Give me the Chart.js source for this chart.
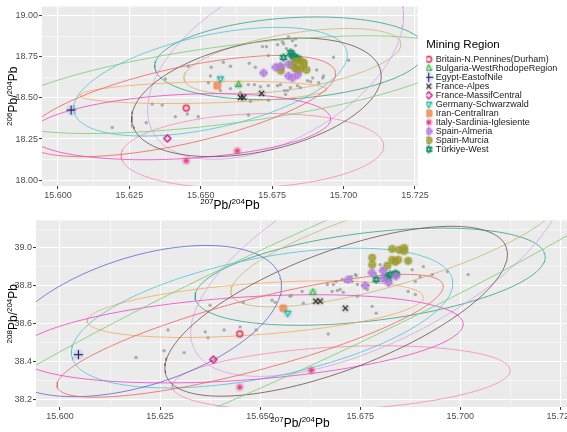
<!DOCTYPE html>
<html>
<head>
<meta charset="utf-8">
<script src="https://cdn.jsdelivr.net/npm/chart.js@4.4.1/dist/chart.umd.min.js"></script>
<style>
  html, body { margin: 0; padding: 0; background: #fff; overflow: hidden; }
  #wrap { position: relative; width: 567px; height: 432px; overflow: hidden; }
  #top { position: absolute; left: 0; top: 0; }
  #bottom { position: absolute; left: 0; top: 214px; }
</style>
</head>
<body>
<div id="wrap">
  <canvas id="top" width="567" height="214"></canvas>
  <!-- slightly wider than the page: the panel runs off the right edge like the source figure -->
  <canvas id="bottom" width="575" height="218"></canvas>
</div>
<script>
// ---- data ----
const regions = [
  'Britain-N.Pennines(Durham)', 'Bulgaria-WestRhodopeRegion', 'Egypt-EastofNile',
  'France-Alpes', 'France-MassifCentral', 'Germany-Schwarzwald', 'Iran-CentralIran',
  'Italy-Sardinia-Iglesiente', 'Spain-Almeria', 'Spain-Murcia', 'Türkiye-West'
];

// 207Pb/204Pb of the labelled samples, one list per region
const regionX = [
  [15.6449],
  [15.6632],
  [15.6046],
  [15.6639, 15.6650, 15.6713],
  [15.6383],
  [15.6569],
  [15.6558],
  [15.6449, 15.6628],
  [15.6720, 15.6762, 15.6779, 15.6807, 15.6807, 15.6839, 15.6821],
  [15.6780, 15.6780, 15.6818, 15.6830, 15.6848, 15.6860, 15.6860, 15.6830, 15.6838, 15.6845, 15.6870],
  [15.6790, 15.6815, 15.6825, 15.6838, 15.6820, 15.6840]
];
// 206Pb/204Pb
const region206 = [
  [18.438],
  [18.580],
  [18.426],
  [18.503, 18.503, 18.527],
  [18.254],
  [18.615],
  [18.574],
  [18.118, 18.178],
  [18.651, 18.686, 18.692, 18.704, 18.633, 18.639, 18.621],
  [18.685, 18.665, 18.700, 18.720, 18.725, 18.715, 18.705, 18.680, 18.675, 18.670, 18.670],
  [18.745, 18.775, 18.750, 18.740, 18.760, 18.735]
];
// 208Pb/204Pb
const region208 = [
  [38.545],
  [38.765],
  [38.435],
  [38.718, 38.718, 38.681],
  [38.409],
  [38.655],
  [38.681],
  [38.263, 38.352],
  [38.833, 38.801, 38.869, 38.880, 38.838, 38.850, 38.817],
  [38.948, 38.911, 38.906, 38.995, 38.990, 39.000, 38.984, 38.937, 38.927, 38.937, 38.932],
  [38.833, 38.848, 38.859, 38.864, 38.838, 38.860]
];

// unlabelled database samples (grey dots)
const grayTopX = [15.6190, 15.6260, 15.6309, 15.6330, 15.6365, 15.6411, 15.6453, 15.6491, 15.6376, 15.6456,
  15.6534, 15.6537, 15.6579, 15.6604, 15.6670, 15.6691, 15.6716, 15.6730, 15.6737, 15.6769,
  15.6786, 15.6800, 15.6807, 15.6821, 15.6832, 15.6790, 15.6832, 15.6965, 15.7018, 15.6927,
  15.6913, 15.6885, 15.6874, 15.6779, 15.6804, 15.6849, 15.6930, 15.6860, 15.6906, 15.6632,
  15.6667, 15.6688, 15.6709, 15.6737, 15.6769, 15.6793, 15.6814, 15.6839, 15.6892, 15.6604,
  15.6674, 15.6737, 15.6797, 15.6667, 15.6639, 15.6569, 15.6527];
const grayTopY = [18.320, 18.331, 18.349, 18.462, 18.456, 18.385, 18.402, 18.385, 18.615, 18.692,
  18.633, 18.686, 18.716, 18.692, 18.710, 18.686, 18.811, 18.811, 18.757, 18.822,
  18.840, 18.799, 18.870, 18.846, 18.858, 18.828, 18.817, 18.746, 18.728, 18.621,
  18.592, 18.598, 18.604, 18.580, 18.544, 18.562, 18.633, 18.680, 18.669, 18.574,
  18.580, 18.580, 18.568, 18.574, 18.574, 18.544, 18.562, 18.574, 18.621, 18.556,
  18.479, 18.485, 18.521, 18.396, 18.533, 18.544, 18.592];
const grayBotX = [15.6190, 15.6260, 15.6310, 15.6270, 15.6363, 15.6370, 15.6375, 15.6410, 15.6450, 15.6490,
  15.6458, 15.6530, 15.6538, 15.6608, 15.6670, 15.6578, 15.6680, 15.6693, 15.6700, 15.6708,
  15.6738, 15.6730, 15.6743, 15.6683, 15.6668, 15.6705, 15.6575, 15.6605, 15.6690, 15.6713,
  15.6728, 15.6740, 15.6768, 15.6770, 15.6788, 15.6780, 15.6790, 15.6743, 15.6870, 15.6888,
  15.6870, 15.6900, 15.6908, 15.6930, 15.6968, 15.7020, 15.6880, 15.6888, 15.6805, 15.6800];
const grayBotY = [38.420, 38.456, 38.446, 38.566, 38.556, 38.524, 38.697, 38.566, 38.582, 38.566,
  38.712, 38.723, 38.712, 38.707, 38.545, 38.749, 38.770, 38.775, 38.780, 38.765,
  38.859, 38.822, 38.807, 38.807, 38.807, 38.833, 38.744, 38.770, 38.822, 38.822,
  38.848, 38.854, 38.780, 38.801, 38.864, 38.691, 38.655, 38.744, 38.770, 38.754,
  38.932, 38.848, 38.901, 38.859, 38.875, 38.859, 38.885, 38.822, 38.890, 38.911];

// confidence ellipses per region: [centre x, centre y, axis1 dx, axis1 dy, axis2 dx, axis2 dy]
const ellipse206 = [
  [15.6428, 18.450, 0.0544, 0.195, 0, 0.237],
  [15.6597, 18.580, 0.0807, 0.178, 0, 0.237],
  null,
  [15.6695, 18.503, 0.0428, 0.059, 0.0088, 0.355],
  [15.6428, 18.325, 0.0527, 0.047, 0, 0.195],
  [15.6534, 18.598, 0.0474, 0.118, 0.0070, 0.308],
  [15.6509, 18.533, 0.0432, 0.018, 0, 0.065],
  [15.6681, 18.178, 0.0460, 0.030, 0, 0.225],
  [15.6762, 18.710, -0.0386, -0.503, -0.0228, 0.296],
  [15.6821, 18.722, 0.0379, 0.089, 0.0028, 0.178],
  [15.6814, 18.740, 0.0474, 0.030, 0.0035, 0.249]
];
const ellipse208 = [
  [15.6475, 38.535, 0.04825, 0.2615, 0, 0.1935],
  [15.6600, 38.718, 0.1125, 1.082, 0, 0.366],
  [15.6200, 38.613, 0.0350, 0.235, -0.005, 0.324],
  [15.6690, 38.665, 0.0425, 0.2615, 0.005, 0.366],
  [15.6450, 38.519, 0.05575, 0.078, 0, 0.220],
  [15.6505, 38.629, 0.0475, 0.157, 0.00375, 0.335],
  [15.6488, 38.676, 0.0420, 0.0627, 0, 0.136],
  [15.67025, 38.310, 0.04225, 0.042, 0, 0.167],
  [15.6795, 38.953, -0.04575, -0.497, -0.010, 0.392],
  [15.6840, 39.016, 0.0410, 0.272, -0.005, 0.183],
  [15.6775, 38.848, 0.04375, 0.1046, 0, 0.235]
];

// axis ticks
const xMajor = [15.600, 15.625, 15.650, 15.675, 15.700, 15.725];
const xMinor = [15.5875, 15.6125, 15.6375, 15.6625, 15.6875, 15.7125];
const y206Major = [18.00, 18.25, 18.50, 18.75, 19.00];
const y206Minor = [17.875, 18.125, 18.375, 18.625, 18.875, 19.125];
const y208Major = [38.2, 38.4, 38.6, 38.8, 39.0];
const y208Minor = [38.1, 38.3, 38.5, 38.7, 38.9, 39.1];

// axis titles as [text, superscript?] pieces
const xTitle = [['207', true], ['Pb/', false], ['204', true], ['Pb', false]];
const yTitleTop = [['206', true], ['Pb/', false], ['204', true], ['Pb', false]];
const yTitleBottom = [['208', true], ['Pb/', false], ['204', true], ['Pb', false]];

// ---- styles ----
const family = "'Liberation Sans', Arial, sans-serif";
const shapes = ['circle', 'triUp', 'plus', 'cross', 'diamond', 'triDown', 'squareX', 'asterisk', 'diamondPlus', 'circlePlus', 'david'];
const markerColors = ['#D7264F', '#3DB54E', '#1B1F5A', '#1A1A1A', '#C9177E', '#1FB3A6', '#F0874A', '#E4478A', '#B57BE0', '#9C9A2E', '#148F68'];
const haloColors = ['rgba(215,38,79,0.15)', 'rgba(77,191,90,0.22)', 'rgba(80,80,220,0.12)', 'rgba(0,0,0,0.08)',
  'rgba(201,23,126,0.15)', 'rgba(31,179,166,0.2)', 'rgba(240,135,74,0.45)', 'rgba(228,71,138,0.22)',
  'rgba(181,123,224,0.35)', 'rgba(156,154,46,0.4)', 'rgba(20,143,104,0.28)'];
const ellipseColors = ['rgba(242,98,96,0.9)', 'rgba(120,205,110,0.9)', 'rgba(100,100,205,0.9)', 'rgba(110,80,80,0.9)',
  'rgba(238,70,200,0.9)', 'rgba(80,195,215,0.9)', 'rgba(248,170,90,0.9)', 'rgba(245,140,180,0.9)',
  'rgba(215,165,235,0.9)', 'rgba(200,185,115,0.9)', 'rgba(50,165,135,0.9)'];

function makeSymbol(shape, color, halo) {
  const c = document.createElement('canvas');
  c.width = 11; c.height = 11;
  const g = c.getContext('2d');
  const m = 5.5, r = 2.9;
  g.fillStyle = halo;
  g.beginPath(); g.arc(m, m, shape === 'plus' ? 5.4 : 4.6, 0, 2 * Math.PI); g.fill();
  g.strokeStyle = color; g.lineWidth = 1.15;
  const seg = (x1, y1, x2, y2) => { g.beginPath(); g.moveTo(x1, y1); g.lineTo(x2, y2); g.stroke(); };
  const circle = () => { g.beginPath(); g.arc(m, m, r, 0, 2 * Math.PI); g.stroke(); };
  const tri = (d) => {
    g.beginPath();
    g.moveTo(m, m - d * r * 1.15); g.lineTo(m + r, m + d * r * 0.65); g.lineTo(m - r, m + d * r * 0.65);
    g.closePath(); g.stroke();
  };
  const plus = (k) => { seg(m - k, m, m + k, m); seg(m, m - k, m, m + k); };
  const cross = (k) => { seg(m - k, m - k, m + k, m + k); seg(m - k, m + k, m + k, m - k); };
  const diamond = () => {
    g.beginPath(); g.moveTo(m, m - r - 0.6); g.lineTo(m + r + 0.6, m); g.lineTo(m, m + r + 0.6); g.lineTo(m - r - 0.6, m);
    g.closePath(); g.stroke();
  };
  if (shape === 'circle') circle();
  if (shape === 'triUp') tri(1);
  if (shape === 'plus') plus(r + 1.6);
  if (shape === 'cross') cross(r - 0.3);
  if (shape === 'diamond') diamond();
  if (shape === 'triDown') tri(-1);
  if (shape === 'squareX') { g.strokeRect(m - r + 0.3, m - r + 0.3, 2 * r - 0.6, 2 * r - 0.6); cross(r - 0.3); }
  if (shape === 'asterisk') { plus(r); cross(r - 0.7); }
  if (shape === 'diamondPlus') { diamond(); plus(r + 0.6); }
  if (shape === 'circlePlus') { circle(); plus(r); }
  if (shape === 'david') { tri(1); tri(-1); }
  return c;
}
const symbols = shapes.map((s, i) => makeSymbol(s, markerColors[i], haloColors[i]));

function ellipsePoints(e) {
  const [cx, cy, ax, ay, bx, by] = e;
  const pts = [];
  for (let i = 0; i <= 160; i++) {
    const t = i / 160 * 2 * Math.PI;
    pts.push({ x: cx + ax * Math.cos(t) + bx * Math.sin(t), y: cy + ay * Math.cos(t) + by * Math.sin(t) });
  }
  return pts;
}

const inList = (list, v) => list.some(m => Math.abs(m - v) < 1e-7);

function scaleOpts(pos, min, max, major, minor, digits, size) {
  return {
    type: 'linear', position: pos, min: min, max: max,
    afterBuildTicks: s => {
      const inner = major.concat(minor).filter(v => v > min && v < max);
      s.ticks = [min].concat(inner.sort((a, b) => a - b), [max]).map(v => ({ value: v }));
    },
    afterFit: s => { if (pos === 'left') s.width = size; else s.height = size; },
    ticks: {
      autoSkip: false, maxRotation: 0, padding: 1, color: '#4D4D4D', font: { family, size: 9 },
      callback: v => inList(major, v) ? Number(v).toFixed(digits) : (inList(minor, v) ? '' : null)
    },
    grid: {
      color: '#FFFFFF',
      lineWidth: c => (c.tick && inList(major, c.tick.value)) ? 1.1 : 0.5,
      tickLength: 3, tickWidth: 1,
      tickColor: c => (c.tick && inList(major, c.tick.value)) ? '#333333' : 'rgba(0,0,0,0)'
    },
    border: { display: false },
    title: { display: false }
  };
}

function panelDatasets(regionY, grayX, grayY, ellipses) {
  const sets = [];
  regions.forEach((name, i) => {
    sets.push({
      label: name, isRegion: true,
      data: regionX[i].map((x, j) => ({ x: x, y: regionY[i][j] })),
      pointStyle: symbols[i], pointRadius: 4
    });
  });
  sets.push({
    label: 'database', data: grayX.map((x, j) => ({ x: x, y: grayY[j] })),
    pointStyle: 'circle', pointRadius: 1.7, backgroundColor: 'rgba(150,150,150,0.75)', borderWidth: 0
  });
  ellipses.forEach((e, i) => {
    if (!e) return;
    sets.push({
      label: regions[i] + ' ellipse', data: ellipsePoints(e), showLine: true, pointRadius: 0,
      borderColor: ellipseColors[i], borderWidth: 0.9, fill: false, tension: 0
    });
  });
  return sets;
}

const panelBg = {
  id: 'panelBg',
  beforeDraw(chart) {
    const { ctx, chartArea: a } = chart;
    ctx.save();
    ctx.fillStyle = '#EBEBEB';
    ctx.fillRect(a.left, a.top, a.right - a.left, a.bottom - a.top);
    ctx.restore();
  }
};

// leave a small gap between the panel and the legend, as ggplot does
const legendGap = {
  id: 'legendGap',
  afterLayout(chart) {
    const lg = chart.legend;
    if (!lg || !lg.options.display) return;
    const w = lg.right - lg.left;
    lg.left = chart.chartArea.right + 8.5;
    lg.right = lg.left + w;
  }
};

// draws an isotope-ratio title with raised mass numbers
function drawIsoTitle(ctx, parts, size) {
  const sup = Math.round(size * 0.66);
  let w = 0;
  parts.forEach(p => { ctx.font = (p[1] ? sup : size) + 'px ' + family; w += ctx.measureText(p[0]).width; });
  let x = -w / 2;
  parts.forEach(p => {
    ctx.font = (p[1] ? sup : size) + 'px ' + family;
    ctx.fillText(p[0], x, p[1] ? -size * 0.42 : 0);
    x += ctx.measureText(p[0]).width;
  });
}
function axisTitles(xParts, yParts, xBaseline, yBaseline, size, xCentre) {
  return {
    id: 'axisTitles',
    afterDraw(chart) {
      const { ctx, chartArea: a } = chart;
      ctx.save();
      ctx.fillStyle = '#000000';
      ctx.textBaseline = 'alphabetic';
      ctx.textAlign = 'left';
      ctx.translate(xCentre || (a.left + a.right) / 2, xBaseline);
      drawIsoTitle(ctx, xParts, size);
      ctx.restore();
      ctx.save();
      ctx.fillStyle = '#000000';
      ctx.textBaseline = 'alphabetic';
      ctx.textAlign = 'left';
      ctx.translate(yBaseline, (a.top + a.bottom) / 2);
      ctx.rotate(-Math.PI / 2);
      drawIsoTitle(ctx, yParts, size);
      ctx.restore();
    }
  };
}

new Chart(document.getElementById('top').getContext('2d'), {
  type: 'scatter',
  data: { datasets: panelDatasets(region206, grayTopX, grayTopY, ellipse206) },
  options: {
    responsive: false, animation: false, devicePixelRatio: 1, events: [],
    layout: { autoPadding: false, padding: { top: 1, left: 0, right: 10, bottom: 0 } },
    scales: {
      x: scaleOpts('bottom', 15.5944, 15.7260, xMajor, xMinor, 3, 28),
      y: scaleOpts('left', 17.965, 19.055, y206Major, y206Minor, 2, 42)
    },
    plugins: {
      tooltip: { enabled: false },
      legend: {
        display: true, position: 'right', align: 'start',
        title: { display: true, text: 'Mining Region', color: '#000000', position: 'start',
          font: { family, size: 11.5 }, padding: { top: 38, bottom: 2 } },
        labels: {
          usePointStyle: true, boxWidth: 5, boxHeight: 5, padding: 0, color: '#1A1A1A',
          font: { family, size: 9 },
          filter: (item, data) => !!data.datasets[item.datasetIndex].isRegion
        }
      }
    }
  },
  plugins: [panelBg, legendGap, axisTitles(xTitle, yTitleTop, 209, 17, 12)]
});

new Chart(document.getElementById('bottom').getContext('2d'), {
  type: 'scatter',
  data: { datasets: panelDatasets(region208, grayBotX, grayBotY, ellipse208) },
  options: {
    responsive: false, animation: false, devicePixelRatio: 1, events: [],
    layout: { autoPadding: false, padding: { top: 4, left: 0, right: 0, bottom: 0 } },
    scales: {
      x: scaleOpts('bottom', 15.594, 15.7268, xMajor, xMinor, 3, 25),
      y: scaleOpts('left', 38.158, 39.146, y208Major, y208Minor, 1, 36)
    },
    plugins: { tooltip: { enabled: false }, legend: { display: false } }
  },
  plugins: [panelBg, axisTitles(xTitle, yTitleBottom, 213, 17, 12, 300)]
});
</script>
</body>
</html>
